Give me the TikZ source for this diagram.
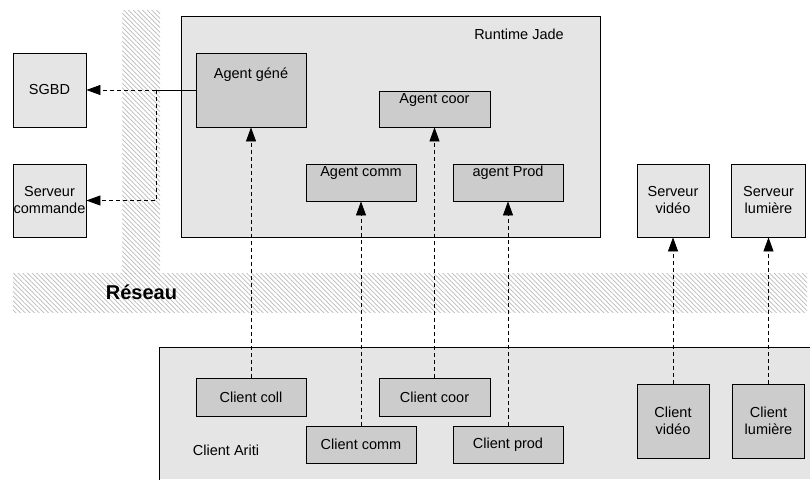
\documentclass[tikz,border=0pt]{standalone}
\usepackage{fontspec}
\setmainfont{Liberation Sans}
\usetikzlibrary{arrows.meta,patterns.meta,positioning}

\begin{document}
\begin{tikzpicture}[
        x=1pt, y=-1pt,
        every node/.style={font=\fontsize{14.5}{17}\selectfont, align=center, text=black},
        outer/.style={draw, fill=gray!20, line width=0.8pt, inner sep=0pt},
        inbox/.style={draw, fill=gray!40, line width=0.8pt, inner sep=0pt},
        hatch/.style={pattern={Lines[angle=-45,distance=3.3pt,line width=0.7pt]}, pattern color=gray!55},
        edge/.style={draw, line width=0.8pt, dash pattern=on 4pt off 3pt,
            -{Triangle[length=14pt,width=10pt]}}
    ]
        \useasboundingbox (0,0) rectangle (810,479);

        % le reseau
        \path[hatch] (122,10) rectangle (160,273);
        \path[hatch] (13,273) rectangle (807,312);
        \node[font=\fontsize{20}{24}\selectfont\bfseries] (reseau) at (141.5,292.5) {Réseau};

        % runtime Jade
        \node[outer, minimum width=419, minimum height=221, anchor=north west] (jade) at (181,16) {};
        \node (jadetxt) at (519,34) {Runtime Jade};

        \node[inbox, minimum width=110, minimum height=74] (gene) at (251,90) {};
        \node (genetxt) at (251,75) {Agent géné};
        \node[inbox, minimum width=111, minimum height=36] (acoor) at (434.5,109) {};
        \node (acoortxt) at (434.5,100) {Agent coor};
        \node[inbox, minimum width=110, minimum height=37] (acomm) at (361,182.5) {};
        \node (acommtxt) at (361,173) {Agent comm};
        \node[inbox, minimum width=110, minimum height=37] (aprod) at (508,182.5) {};
        \node (aprodtxt) at (508,173) {agent Prod};

        % serveurs
        \node[outer, minimum width=73, minimum height=74] (sgbd) at (49.5,90) {SGBD};
        \node[outer, minimum width=73, minimum height=73] (cmd) at (49.5,200.5) {Serveur\\commande};
        \node[outer, minimum width=72, minimum height=73] (svid) at (673,200.5) {Serveur\\vidéo};
        \node[outer, minimum width=74, minimum height=73] (slum) at (768.5,200.5) {Serveur\\lumière};

        % client Ariti
        \node[outer, draw=none, minimum width=651, minimum height=132, anchor=north west] (ariti) at (159,347) {};
        \draw[line width=0.8pt] (ariti.south west) -- (ariti.north west) -- (ariti.north east);
        \node (arititxt) at (226,450) {Client Ariti};

        \node[inbox, minimum width=110, minimum height=38] (ccoll) at (251,397) {Client coll};
        \node[inbox, minimum width=111, minimum height=38] (ccoor) at (434.5,397) {Client coor};
        \node[inbox, minimum width=110, minimum height=37] (ccomm) at (361,444.5) {Client comm};
        \node[inbox, minimum width=110, minimum height=37] (cprod) at (508,444.5) {Client prod};
        \node[inbox, minimum width=72, minimum height=74] (cvid) at (673,421) {Client\\vidéo};
        \node[inbox, minimum width=72, minimum height=74] (clum) at (768.5,421) {Client\\lumière};

        % liaisons
        \coordinate (split) at (156,90);
        \draw[line width=0.8pt] (gene.west) -- (split);
        \path[edge] (split) -- (sgbd.east);
        \path[edge] (split) |- (cmd.east);

        \path[edge] (ccoll) -- (gene);
        \path[edge] (ccomm) -- (acomm);
        \path[edge] (ccoor) -- (acoor);
        \path[edge] (cprod) -- (aprod);
        \path[edge] (cvid) -- (svid);
        \path[edge] (clum) -- (slum);
    \end{tikzpicture}
\end{document}
